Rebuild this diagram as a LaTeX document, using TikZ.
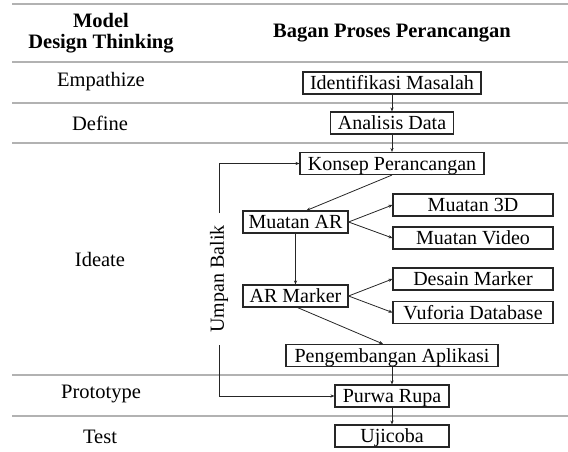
\documentclass[tikz,border=0pt]{standalone}
\usepackage{fontspec}
\setmainfont{Liberation Serif}
\usetikzlibrary{arrows.meta}
\begin{document}
\begin{tikzpicture}[x=1pt,y=-1pt,
  rule/.style={draw=black!30,line width=1.4pt},
  stage/.style={font=\fontsize{20.5}{22}\selectfont,anchor=center},
  head/.style={font=\fontsize{20.5}{21}\selectfont\bfseries,align=center},
  procbox/.style={draw=black!85,line width=1.1pt,font=\fontsize{20}{22}\selectfont,
    inner sep=1pt,text height=15.5pt,text depth=2.5pt,minimum height=22pt},
  conn/.style={draw=black!85,line width=0.8pt,-{Stealth[length=4pt,width=3.2pt]}}
]
\useasboundingbox (0,0) rectangle (568,452);
% table rules
\foreach \yy in {4,62,103,143,375,416} \draw[rule] (12,\yy) -- (568,\yy);
% headers
\node[head] (h1) at (101,33) {Model\\Design Thinking};
\node[head] (h2) at (392,33) {Bagan Proses Perancangan};
% stages
\node[stage] (s1) at (101,82) {Empathize};
\node[stage] (s2) at (100,123) {Define};
\node[stage] (s3) at (100,259) {Ideate};
\node[stage] (s4) at (101,394) {Prototype};
\node[stage] (s5) at (100,437) {Test};
% boxes
\node[procbox,minimum width=178pt] (idm) at (392,83) {Identifikasi Masalah};
\node[procbox,minimum width=123pt] (ad) at (392,123) {Analisis Data};
\node[procbox,minimum width=184pt] (kp) at (392,163.5) {Konsep Perancangan};
\node[procbox,minimum width=105pt] (mar) at (295.5,222) {Muatan AR};
\node[procbox,minimum width=160pt] (m3d) at (473,205) {Muatan 3D};
\node[procbox,minimum width=160pt] (mv) at (473,238) {Muatan Video};
\node[procbox,minimum width=105pt] (arm) at (295.5,296) {AR Marker};
\node[procbox,minimum width=160pt] (dm) at (473,279) {Desain Marker};
\node[procbox,minimum width=160pt] (vd) at (473,312.5) {Vuforia Database};
\node[procbox,minimum width=212pt] (pa) at (392,355.5) {Pengembangan Aplikasi};
\node[procbox,minimum width=114pt] (pr) at (392,396) {Purwa Rupa};
\node[procbox,minimum width=114pt] (uj) at (392,436) {Ujicoba};
% connectors
\draw[conn] (idm) -- (ad);
\draw[conn] (ad) -- (kp);
\draw[conn] (kp.south) -- ([xshift=11pt]mar.north);
\draw[conn] (mar.east) -- (m3d.west);
\draw[conn] (mar.east) -- (mv.west);
\draw[conn] (mar) -- (arm);
\draw[conn] (arm.east) -- (dm.west);
\draw[conn] (arm.east) -- (vd.west);
\draw[conn] ([xshift=2pt]arm.south) -- ([xshift=-9pt]pa.north);
\draw[conn] (pa) -- (pr);
\draw[conn] (pr) -- (uj);
% feedback
\node[stage,font=\fontsize{20}{22}\selectfont,rotate=90] (ub) at (219,279) {Umpan Balik};
\coordinate (fbt) at (219,213);
\coordinate (fbb) at (219,345);
\draw[conn] (fbt) |- (kp.west);
\draw[conn] (fbb) |- (pr.west);
\end{tikzpicture}
\end{document}
